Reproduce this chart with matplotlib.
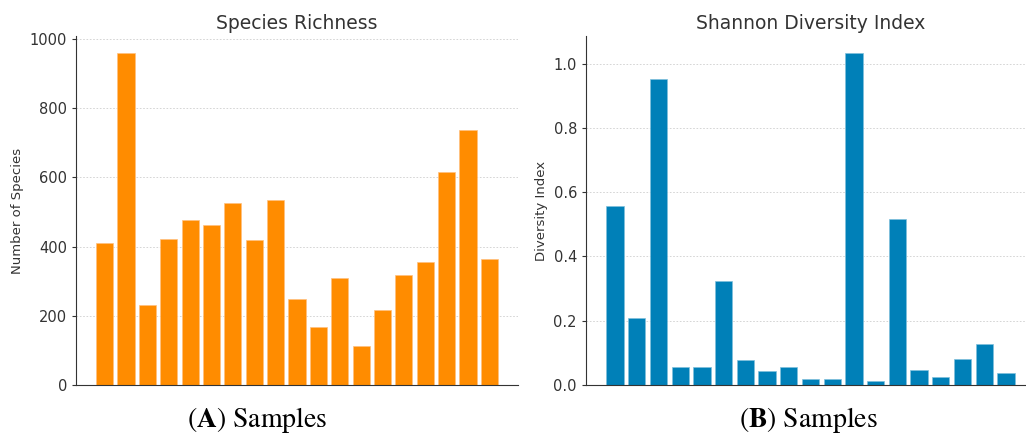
import numpy as np
import matplotlib.pyplot as plt

# Species richness per sample
richness = [411, 961, 232, 422, 477, 464, 527, 419, 535, 248,
            169, 309, 112, 216, 318, 357, 616, 737, 363]

# Shannon diversity index per sample
shannon = [0.557, 0.207, 0.952, 0.055, 0.055, 0.325, 0.079, 0.045, 0.057, 0.019,
           0.019, 1.034, 0.012, 0.515, 0.047, 0.024, 0.082, 0.128, 0.038]

plt.rcParams['mathtext.fontset'] = 'stix'
text_color = '#333333'

fig = plt.figure(figsize=(10.26, 4.34), dpi=100)
ax1 = fig.add_axes([76 / 1026, 49 / 434, 442 / 1026, 349 / 434])
ax2 = fig.add_axes([586 / 1026, 49 / 434, 449 / 1026, 349 / 434])

def style(ax, title, ylabel):
    ax.set_title(title, fontsize=13.5, color=text_color, pad=5)
    ax.set_ylabel(ylabel, fontsize=9.5, color=text_color)
    ax.set_xticks([])
    ax.tick_params(axis='y', labelsize=10.5, colors=text_color, length=3)
    ax.grid(axis='y', linestyle=(0, (2, 2)), linewidth=0.6, color='#cfcfcf')
    ax.set_axisbelow(True)
    ax.spines['top'].set_visible(False)
    ax.spines['right'].set_visible(False)
    ax.spines['left'].set_color(text_color)
    ax.spines['bottom'].set_color(text_color)

x = np.arange(len(richness))
ax1.bar(x, richness, color='#ff8c00', edgecolor='#ffc080', linewidth=0.5)
style(ax1, 'Species Richness', 'Number of Species')
ax1.set_yticks([0, 200, 400, 600, 800, 1000])

x2 = np.arange(len(shannon))
ax2.bar(x2, shannon, color='#0080b8', edgecolor='#80c0dc', linewidth=0.5)
style(ax2, 'Shannon Diversity Index', 'Diversity Index')
ax2.set_yticks([0.0, 0.2, 0.4, 0.6, 0.8, 1.0])

fig.text(257 / 1026, 1 - 420 / 434, r'($\mathbf{A}$) Samples', family='STIXGeneral',
         fontsize=20, ha='center', va='center', color='black')
fig.text(808 / 1026, 1 - 420 / 434, r'($\mathbf{B}$) Samples', family='STIXGeneral',
         fontsize=20, ha='center', va='center', color='black')

fig.savefig('out.png', dpi=100, facecolor='white')
